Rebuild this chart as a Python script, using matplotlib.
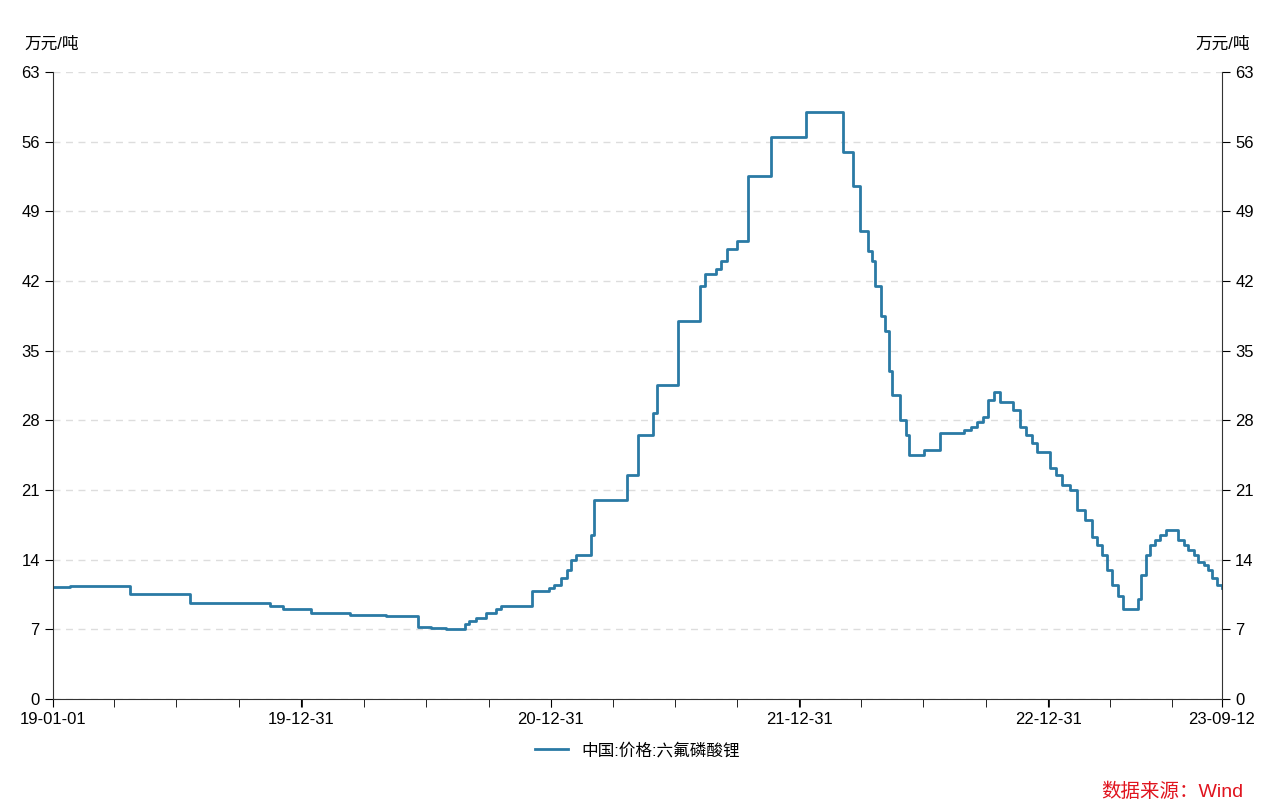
import matplotlib
matplotlib.use("Agg")
import matplotlib.pyplot as plt
import pandas as pd

plt.rcParams['font.family'] = ['Liberation Sans', 'Noto Sans CJK SC', 'DejaVu Sans']

# step points (万元/吨)
dates = ["2019-01-01", "2019-01-26", "2019-04-24", "2019-07-21", "2019-11-16", "2019-12-05",
         "2020-01-14", "2020-03-12", "2020-05-03", "2020-06-19", "2020-07-08", "2020-07-30",
         "2020-08-28", "2020-09-02", "2020-09-12", "2020-09-27", "2020-10-12", "2020-10-19",
         "2020-10-26", "2020-12-03", "2020-12-28", "2021-01-05", "2021-01-15", "2021-01-24",
         "2021-01-30", "2021-02-06", "2021-02-28", "2021-03-05", "2021-04-22", "2021-05-08",
         "2021-05-30", "2021-06-05", "2021-07-06", "2021-08-07", "2021-08-15", "2021-08-31",
         "2021-09-07", "2021-09-16", "2021-10-01", "2021-10-17", "2021-11-20", "2022-01-09",
         "2022-03-05", "2022-03-20", "2022-03-30", "2022-04-10", "2022-04-16", "2022-04-21",
         "2022-04-29", "2022-05-06", "2022-05-12", "2022-05-16", "2022-05-28", "2022-06-06",
         "2022-06-10", "2022-07-02", "2022-07-25", "2022-08-29", "2022-09-08", "2022-09-17",
         "2022-09-27", "2022-10-03", "2022-10-12", "2022-10-21", "2022-11-09", "2022-11-19",
         "2022-11-28", "2022-12-07", "2022-12-14", "2023-01-02", "2023-01-12", "2023-01-20",
         "2023-02-01", "2023-02-11", "2023-02-23", "2023-03-05", "2023-03-12", "2023-03-20",
         "2023-03-27", "2023-04-03", "2023-04-12", "2023-04-19", "2023-05-11", "2023-05-16",
         "2023-05-23", "2023-05-29", "2023-06-05", "2023-06-13", "2023-06-22", "2023-07-09",
         "2023-07-18", "2023-07-24", "2023-08-02", "2023-08-08", "2023-08-16", "2023-08-22",
         "2023-08-28", "2023-09-05", "2023-09-12"]
prices = [11.3, 11.4, 10.5, 9.6, 9.3, 9.0,
          8.6, 8.4, 8.3, 7.2, 7.1, 7.0,
          7.5, 7.8, 8.1, 8.6, 9.0, 9.3,
          9.3, 10.8, 11.2, 11.5, 12.2, 13.0,
          14.0, 14.5, 16.5, 20.0, 22.5, 26.5,
          28.7, 31.5, 38.0, 41.5, 42.7, 43.2,
          44.0, 45.2, 46.0, 52.5, 56.5, 59.0,
          55.0, 51.5, 47.0, 45.0, 44.0, 41.5,
          38.5, 37.0, 33.0, 30.5, 28.0, 26.5,
          24.5, 25.0, 26.7, 27.0, 27.3, 27.8,
          28.3, 30.0, 30.8, 29.8, 29.0, 27.3,
          26.5, 25.7, 24.8, 23.2, 22.5, 21.5,
          21.0, 19.0, 18.0, 16.3, 15.5, 14.5,
          13.0, 11.5, 10.3, 9.0, 10.0, 12.5,
          14.5, 15.5, 16.0, 16.5, 17.0, 16.0,
          15.5, 15.0, 14.5, 13.8, 13.5, 13.0,
          12.2, 11.5, 11.2]

tick_dates = ["2019-01-01", "2019-12-31", "2020-12-31", "2021-12-31", "2022-12-31", "2023-09-12"]
tick_labels = ["19-01-01", "19-12-31", "20-12-31", "21-12-31", "22-12-31", "23-09-12"]
yticks = list(range(0, 64, 7))

x = pd.to_datetime(dates)
fig = plt.figure(figsize=(12.69, 8.09), dpi=100)
ax = fig.add_axes([0.0418, 0.136, 0.9212, 0.775])
ax.plot(x, prices, drawstyle="steps-post", color="#2a7aa5", lw=2.0)

ax.set_xlim(pd.Timestamp(tick_dates[0]), pd.Timestamp(tick_dates[-1]))
ax.set_ylim(0, 63)
ax.set_xticks(pd.to_datetime(tick_dates))
ax.set_xticklabels(tick_labels, fontsize=12)
minor = pd.date_range("2019-01-01", "2023-09-12", freq="QS")
ax.set_xticks(minor, minor=True)
ax.set_yticks(yticks)
ax.tick_params(axis="y", labelsize=12, direction="out", length=6, right=True, labelright=True)
ax.tick_params(axis="x", which="both", direction="out", length=6)
ax.grid(axis="y", ls=(0, (5, 4)), color="#dddddd", lw=1)
ax.spines["top"].set_visible(False)
for s in ["left", "right", "bottom"]:
    ax.spines[s].set_color("#333333")

fig.text(0.019, 0.94, "万元/吨", fontsize=12)
fig.text(0.985, 0.94, "万元/吨", fontsize=12, ha="right")
ax.legend(["中国:价格:六氟磷酸锂"], loc="upper center", bbox_to_anchor=(0.5, -0.045),
          frameon=False, fontsize=12, handlelength=2)
fig.text(0.98, 0.015, "数据来源：Wind", color="#e0141e", fontsize=14, ha="right")

fig.savefig("out.png", dpi=100)
